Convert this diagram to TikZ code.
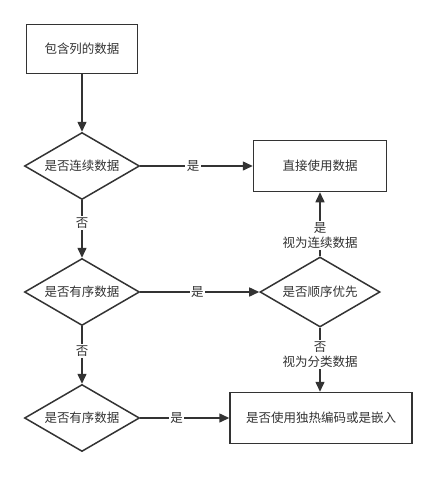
\documentclass[tikz,border=0pt]{standalone}
\usepackage{fontspec}
\newfontfamily\cjk{Noto Sans CJK SC}
\usetikzlibrary{shapes.geometric, arrows.meta}
\definecolor{ink}{HTML}{333333}

\begin{document}
\begin{tikzpicture}[
  x=1pt, y=-1pt,
  > = {Triangle[length=10pt, width=9pt]},
  line width=1.5pt, draw=ink, text=ink,
  font=\cjk\fontsize{12.5}{15}\selectfont,
  box/.style={draw=ink, rectangle, inner sep=0pt},
  test/.style={draw=ink, diamond, aspect=1.7, inner sep=0pt,
               minimum width=115pt, minimum height=67pt},
  lbl/.style={fill=white, inner sep=1.5pt, align=center},
  arr/.style={->, ink, line width=1.5pt}
]
  \useasboundingbox (0,0) rectangle (436,477);

  \node[box, minimum width=111pt, minimum height=49pt] (data) at (82,49) {包含列的数据};
  \node[test] (cont) at (82,166)  {是否连续数据};
  \node[box, minimum width=133pt, minimum height=51pt] (direct) at (320,166) {直接使用数据};
  \node[test] (ord1) at (82,292)  {是否有序数据};
  \node[test, minimum width=120pt, minimum height=70pt] (prio) at (320,292) {是否顺序优先};
  \node[test] (ord2) at (82,418)  {是否有序数据};
  \node[box, minimum width=182pt, minimum height=51pt] (enc) at (321,418) {是否使用独热编码或是嵌入};

  \draw[arr] (data) -- (cont);
  \draw[arr] (cont) -- node[lbl, pos=0.47] {是} (direct);
  \draw[arr] (cont) -- node[lbl, pos=0.4] {否} (ord1);
  \draw[arr] (ord1) -- node[lbl, pos=0.48] {是} (prio);
  \draw[arr] (ord1) -- node[lbl, pos=0.43] {否} (ord2);
  \draw[arr] (ord2) -- node[lbl, pos=0.41] {是} (enc);
  \draw[arr] (prio) -- node[lbl, pos=0.32] {是\\视为连续数据} (direct);
  \draw[arr] (prio.south) -- node[lbl, pos=0.42] {否\\视为分类数据} (prio.south |- enc.north);
\end{tikzpicture}
\end{document}
